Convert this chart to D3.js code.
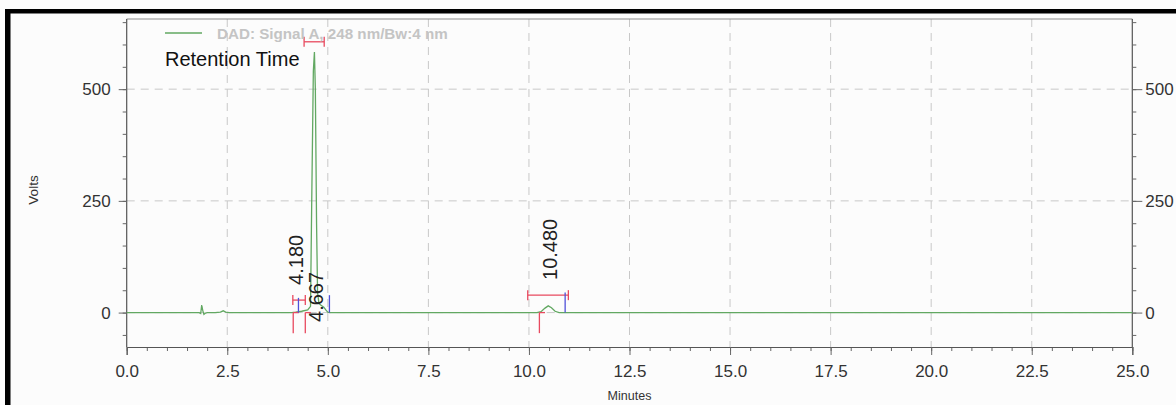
<!DOCTYPE html>
<html>
<head>
<meta charset="utf-8">
<script src="https://cdn.jsdelivr.net/npm/d3@7/dist/d3.min.js"></script>
<style>
  html, body { margin: 0; padding: 0; background: #fff; }
  svg { display: block; }
  text { font-family: "Liberation Sans", Arial, sans-serif; }
</style>
</head>
<body>
<svg id="chart" width="1176" height="405"></svg>
<script>
// Chromatogram trace: retention time (min) and detector response
const traceTime  = [0, 1.80, 1.84, 1.865, 1.89, 1.92, 1.96, 2.00, 2.20, 2.33, 2.40, 2.46, 2.55, 4.10, 4.20, 4.35, 4.50, 4.57, 4.60, 4.64, 4.667, 4.69, 4.72, 4.745, 4.78, 4.84, 4.90, 4.95, 5.00, 5.05, 10.20, 10.30, 10.40, 10.48, 10.56, 10.65, 10.75, 25.0];
const traceValue = [0, 0, -2, 17, 5, -4, -1, 0, 0, 1, 4, 1, 0, 0, 1, 3, 6, 14, 250, 540, 583, 500, 200, 45, 20, 16, 12, 6, 1, 0, 0, 2, 10, 15, 11, 3, 0, 0];

// Integrated peaks
const peakTimes  = [4.180, 4.667, 10.480];
const peakLabels = ["4.180", "4.667", "10.480"];
const labelLevel = [62, -21, 73];           // where each rotated label starts
const windowStart = [4.13, 4.41, 9.97];     // red retention window bars
const windowEnd   = [4.44, 4.91, 10.98];
const windowLevel = [28, 606, 39];
const peakStart   = [4.14, 4.44, 10.26];    // red start markers (below baseline)
const peakEnd     = [4.27, 5.04, 10.90];    // blue end markers (above baseline)
const peakEndTop  = [33, 39, 45];

// Axes
const xTicks = [0, 2.5, 5, 7.5, 10, 12.5, 15, 17.5, 20, 22.5, 25];
const yTicks = [0, 250, 500];
const xMinor = d3.range(0, 25.001, 0.5);
const yMinor = d3.range(-50, 651, 50);

const svg = d3.select("#chart");
const W = 1176, H = 405;
const plotL = 126.7, plotR = 1132.3, plotT = 19, plotB = 347;

const x = d3.scaleLinear().domain([0, 25]).range([plotL, plotR]);
const y = d3.scaleLinear().domain([-77, 657]).range([plotB, plotT]);

const GREEN = "#62a862", RED = "#e84a5f", BLUE = "#5050d8";
const TXT = "#333";

svg.append("rect").attr("width", W).attr("height", H).attr("fill", "#fcfcfc");

// outer black frame (left and top edges)
svg.append("rect").attr("x", 5).attr("y", 9).attr("width", W - 5).attr("height", 4.5).attr("fill", "#000");
svg.append("rect").attr("x", 5).attr("y", 9).attr("width", 5.5).attr("height", H - 9).attr("fill", "#000");

// grid
const grid = svg.append("g").attr("stroke", "#c8c8c8").attr("stroke-width", 1).attr("stroke-dasharray", "8,6");
grid.selectAll("line.gx").data(xTicks.filter(d => d > 0 && d < 25)).join("line")
  .attr("class", "gx")
  .attr("x1", d => x(d)).attr("x2", d => x(d)).attr("y1", plotT).attr("y2", plotB);
grid.selectAll("line.gy").data(yTicks).join("line")
  .attr("class", "gy")
  .attr("x1", plotL).attr("x2", plotR).attr("y1", d => y(d)).attr("y2", d => y(d));

// plot frame
svg.append("line").attr("x1", plotL).attr("x2", plotR).attr("y1", plotT).attr("y2", plotT)
  .attr("stroke", "#8a8a8a").attr("stroke-width", 1.2);

// bottom axis
const xAxisMinor = d3.axisBottom(x).tickValues(xMinor).tickSize(4).tickFormat("");
const xAxis = d3.axisBottom(x).tickValues(xTicks).tickSize(8).tickPadding(10).tickFormat(d3.format(".1f"));
const gxm = svg.append("g").attr("transform", `translate(0,${plotB})`).call(xAxisMinor);
const gx = svg.append("g").attr("transform", `translate(0,${plotB})`).call(xAxis);

// left and right axes
const yAxisL = d3.axisLeft(y).tickValues(yTicks).tickSize(8).tickPadding(8).tickFormat(d3.format("d"));
const yAxisLm = d3.axisLeft(y).tickValues(yMinor).tickSize(4).tickFormat("");
const yAxisR = d3.axisRight(y).tickValues(yTicks).tickSize(10).tickPadding(3).tickFormat(d3.format("d"));
const yAxisRm = d3.axisRight(y).tickValues(yMinor).tickSize(4).tickFormat("");
const gyl = svg.append("g").attr("transform", `translate(${plotL},0)`).call(yAxisL);
const gylm = svg.append("g").attr("transform", `translate(${plotL},0)`).call(yAxisLm);
const gyr = svg.append("g").attr("transform", `translate(${plotR},0)`).call(yAxisR);
const gyrm = svg.append("g").attr("transform", `translate(${plotR},0)`).call(yAxisRm);

[gx, gxm, gyl, gylm, gyr, gyrm].forEach(g => {
  g.select(".domain").attr("stroke", "#555").attr("stroke-width", 1.2);
  g.selectAll(".tick line").attr("stroke", "#666");
  g.selectAll("text").attr("fill", TXT).attr("font-size", 17)
    .attr("font-family", "'Liberation Sans', Arial, sans-serif");
});
gyl.select(".domain").attr("d", `M0,${plotB}V${plotT}`);
gyr.select(".domain").attr("d", `M0,${plotB}V${plotT}`);
gylm.select(".domain").remove();
gyrm.select(".domain").remove();
gxm.select(".domain").remove();

// axis titles
svg.append("text").attr("x", (plotL + plotR) / 2).attr("y", 400).attr("text-anchor", "middle")
  .attr("font-size", 12.5).attr("fill", TXT).text("Minutes");
svg.append("text").attr("transform", "translate(38,190) rotate(-90)").attr("text-anchor", "middle")
  .attr("font-size", 13.5).attr("fill", TXT).text("Volts");

// signal trace
const trace = traceTime.map((t, i) => [t, traceValue[i]]);
svg.append("path").datum(trace)
  .attr("fill", "none").attr("stroke", GREEN).attr("stroke-width", 1.3)
  .attr("d", d3.line().x(d => x(d[0])).y(d => y(d[1])));

// peak integration markers
const marks = svg.append("g").attr("stroke-width", 1.3).attr("fill", "none");
peakTimes.forEach((t, i) => {
  const yb = y(windowLevel[i]);
  marks.append("line").attr("stroke", RED)
    .attr("x1", x(windowStart[i])).attr("x2", x(windowEnd[i])).attr("y1", yb).attr("y2", yb);
  [windowStart[i], windowEnd[i]].forEach(v => {
    marks.append("line").attr("stroke", RED)
      .attr("x1", x(v)).attr("x2", x(v)).attr("y1", yb - 5).attr("y2", yb + 5);
  });
  // start marker: drops below the baseline with a short foot along it
  marks.append("line").attr("stroke", RED)
    .attr("x1", x(peakStart[i])).attr("x2", x(peakStart[i])).attr("y1", y(0)).attr("y2", y(-46));
  marks.append("line").attr("stroke", RED)
    .attr("x1", x(peakStart[i])).attr("x2", x(peakStart[i] + 0.14)).attr("y1", y(0)).attr("y2", y(0));
  // end marker
  marks.append("line").attr("stroke", BLUE)
    .attr("x1", x(peakEnd[i])).attr("x2", x(peakEnd[i])).attr("y1", y(0)).attr("y2", y(peakEndTop[i]));
});

// retention time labels
svg.selectAll("text.rt").data(peakTimes).join("text")
  .attr("class", "rt")
  .attr("transform", (d, i) => `translate(${x(d) + 8.5},${y(labelLevel[i])}) rotate(-90)`)
  .attr("font-size", 20).attr("fill", "#222")
  .text((d, i) => peakLabels[i]);

// legend
svg.append("line").attr("x1", 165).attr("x2", 202).attr("y1", 33).attr("y2", 33)
  .attr("stroke", GREEN).attr("stroke-width", 1.5);
svg.append("text").attr("x", 217).attr("y", 38.5).attr("font-size", 15.2).attr("font-weight", "bold")
  .attr("fill", "#c4c4c4").text("DAD: Signal A, 248 nm/Bw:4 nm");
svg.append("text").attr("x", 165).attr("y", 65.5).attr("font-size", 20).attr("fill", "#111")
  .text("Retention Time");
</script>
</body>
</html>
